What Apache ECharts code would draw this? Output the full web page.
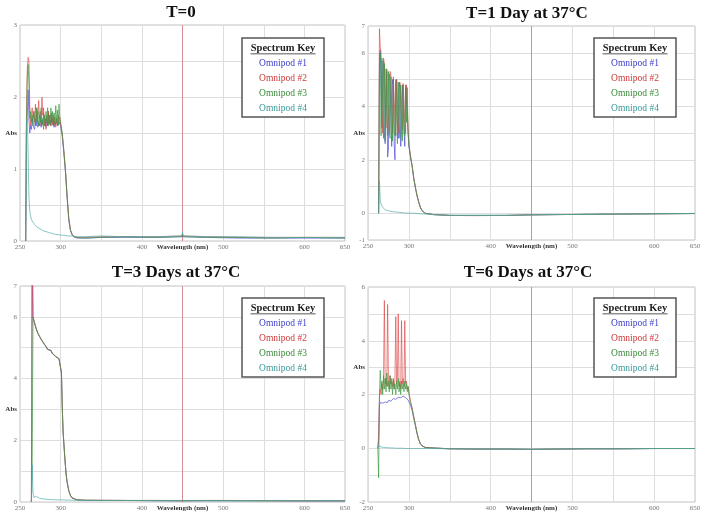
<!DOCTYPE html>
<html><head><meta charset="utf-8">
<script src="https://cdn.jsdelivr.net/npm/echarts@6/dist/echarts.min.js"></script>
<style>
html,body{margin:0;padding:0;background:#fff}
#wrap{position:relative;width:704px;height:519px;overflow:hidden}
.p{position:absolute}
</style>
</head><body><div id="wrap">
<div class="p" id="p0" style="left:0;top:0;width:352px;height:259px"></div>
<div class="p" id="p1" style="left:352px;top:0;width:352px;height:259px"></div>
<div class="p" id="p2" style="left:0;top:259px;width:352px;height:260px"></div>
<div class="p" id="p3" style="left:352px;top:259px;width:352px;height:260px"></div>
</div>
<script>
const seriesNames = ['Omnipod #1', 'Omnipod #2', 'Omnipod #3', 'Omnipod #4'];
const panelTitles = ['T=0', 'T=1 Day at 37°C', 'T=3 Days at 37°C', 'T=6 Days at 37°C'];
const legendTitle = 'Spectrum Key';
const xTickLabels = [250, 300, 400, 500, 600, 650];
const yTickLabels = [[0, 1, 2, 3], [-1, 0, 2, 4, 6, 7], [0, 2, 4, 6, 7], [-2, 0, 2, 4, 6]];
const yRanges = [[0, 3, 0.5], [-1, 7, 1], [0, 7, 1], [-2, 6, 1]];
const absLabelAt = [1.5, 3, 3, 3];
const referenceWavelength = 450;

// ---- T=0 ----
const wl_T0 = [257,258,259,260,261,262,263,264,265,266,267,268,269,270,271,272,273,274,275,276,277,278,279,280,281,282,283,284,285,286,287,288,289,290,291,292,293,294,295,296,297,298,299,300,302,304,306,308,310,312,314,316,320,330,350,380,420,449,450,451,480,520,560,600,650];
const T0_pod1 = [0,1.6,1.75,2.1,1.7,1.5,1.6,1.55,1.7,1.6, 1.62,1.55,1.7,1.6,1.75,1.58,1.65,1.6,1.72,1.58, 1.68,1.62,1.78,1.6,1.66,1.58,1.7,1.6,1.8,1.62, 1.68,1.6,1.72,1.62,1.7,1.58,1.65,1.62,1.7,1.6, 1.66,1.62,1.65,1.6, 1.45,1.22,0.95,0.6,0.3,0.15,0.09,0.06,0.04,0.04,0.05,0.05,0.05,0.06,0.08,0.06,0.05,0.04,0.04,0.04,0.04];
const T0_pod2 = [0,1.9,2.4,2.55,2.5,1.9,1.6,1.75,1.85,1.7, 1.8,1.65,1.9,1.7,1.85,1.75,1.95,1.7,1.8,1.6, 2.0,1.75,1.85,1.6,1.7,1.55,1.75,1.6,1.8,1.65, 1.75,1.6,1.78,1.62,1.75,1.6,1.72,1.58,1.7,1.62, 1.75,1.65,1.72,1.62, 1.48,1.25,0.98,0.62,0.32,0.16,0.1,0.06,0.05,0.05,0.06,0.06,0.06,0.07,0.09,0.07,0.06,0.05,0.05,0.05,0.05];
const T0_pod3 = [0,1.7,2.3,2.45,2.2,1.7,1.8,1.65,1.75,1.6, 1.8,1.7,1.6,1.85,1.65,1.8,1.6,1.75,1.65,1.85, 1.6,1.7,1.55,1.75,1.6,1.8,1.65,1.85,1.6,1.75, 1.62,1.85,1.65,1.8,1.6,1.78,1.62,1.88,1.65,1.82, 1.6,1.9,1.7,1.65, 1.5,1.24,0.97,0.61,0.31,0.15,0.09,0.06,0.05,0.04,0.05,0.06,0.05,0.06,0.1,0.06,0.05,0.05,0.04,0.05,0.04];
const T0_pod4 = [0,1.65,1.7,1.2,0.6,0.42,0.35,0.3,0.28,0.26, 0.24,0.23,0.22,0.2,0.2,0.19,0.18,0.17,0.16,0.16, 0.15,0.15,0.14,0.14,0.13,0.13,0.13,0.12,0.12,0.12, 0.11,0.11,0.11,0.1,0.1,0.1,0.1,0.09,0.09,0.09, 0.09,0.09,0.08,0.08, 0.08,0.08,0.07,0.07,0.07,0.07,0.07,0.07,0.06,0.06,0.07,0.06,0.06,0.07,0.12,0.07,0.06,0.06,0.05,0.05,0.05];

// ---- T=1 Day ----
const wl_T1 = [263,264,265,266,267,268,269,270,271,272,273,274,275,276,277,278,279,280,281,282,283,284,285,286,287,288,289,290,291,292,293,294,295,296,297,298,299,300,302,304,306,308,310,312,314,316,320,330,350,380,420,449,450,451,480,520,560,600,650];
const T1_pod1 = [0,5.9,6.1,5.0,3.2,5.7,5.6,3.0,2.6,4.5, 5.3,2.1,2.4,5.2,5.1,3.5,2.5,5.0,4.8,2.6, 2.0,4.9,5.0,3.4,2.8,4.9,4.7,2.5,3.0,4.8, 4.8,3.2,2.5,4.7,4.75,3.8,3.0,2.5, 2.1,1.75,1.3,0.95,0.65,0.42,0.22,0.1,0.0,-0.05,-0.08,-0.08,-0.08,-0.06,-0.07,-0.06,-0.05,-0.04,-0.03,-0.02,-0.01];
const T1_pod2 = [0,6.9,6.2,6.0,4.0,3.0,5.8,5.6,4.2,3.2, 5.4,5.4,3.6,3.0,5.3,5.2,3.8,3.0,5.1,5.1, 3.5,2.9,5.0,5.0,3.4,3.0,4.9,4.9,3.6,3.1, 4.85,4.85,3.4,3.0,4.8,4.8,3.2,2.6, 2.15,1.78,1.32,0.97,0.66,0.43,0.23,0.1,0.0,-0.05,-0.08,-0.09,-0.08,-0.06,-0.06,-0.06,-0.05,-0.04,-0.03,-0.02,-0.01];
const T1_pod3 = [0,5.2,6.0,2.9,5.8,4.0,2.8,5.6,2.7,5.4, 3.5,2.9,5.3,3.0,2.8,5.1,4.0,2.7,5.0,3.1, 2.9,5.0,3.6,2.6,4.9,3.3,2.8,4.8,4.2,2.7, 4.8,3.0,2.9,4.8,3.4,4.7,3.1,2.55, 2.1,1.76,1.3,0.96,0.65,0.42,0.22,0.1,0.0,-0.05,-0.08,-0.08,-0.08,-0.06,-0.07,-0.06,-0.05,-0.04,-0.03,-0.02,-0.01];
const T1_pod4 = [0,1.2,0.45,0.35,0.28,0.22,0.18,0.15,0.13,0.12, 0.1,0.1,0.09,0.08,0.08,0.07,0.07,0.06,0.06,0.05, 0.05,0.05,0.04,0.04,0.04,0.03,0.03,0.03,0.02,0.02, 0.02,0.02,0.01,0.01,0.01,0.01,0.01,0.0, 0,0,0,-0.01,-0.01,-0.02,-0.02,-0.02,-0.03,-0.05,-0.08,-0.08,-0.08,-0.06,-0.06,-0.06,-0.05,-0.04,-0.03,-0.02,-0.01];

// ---- T=3 Days ----
const wl_T3 = [264,265,266,267,268,270,272,274,276,278,280,282,284,286,288,290,292,294,296,298,300,301,302,303,304,305,306,307,308,310,312,314,316,320,330,350,380,420,449,450,451,480,520,560,600,650];
const T3_pod1 = [0,8.5,5.98,5.88,5.78, 5.6,5.46,5.36,5.27,5.3,5.1,5.03,4.94,4.98,4.9,4.8,4.75,4.71,4.67,4.64,4.58, 4.18,3.08,2.28,1.88,1.48,1.14,0.84,0.64, 0.37,0.21,0.13,0.09,0.07, 0.05,0.05,0.05,0.04,0.04,0.05,0.04,0.04,0.04,0.04,0.03,0.03];
const T3_pod2 = [0,8.5,6.0,5.9,5.8, 5.62,5.48,5.38,5.28,5.32,5.12,5.05,4.95,5.0,4.92,4.82,4.76,4.72,4.68,4.65,4.6, 4.2,3.1,2.3,1.9,1.5,1.15,0.85,0.65, 0.38,0.22,0.14,0.1,0.08, 0.06,0.06,0.05,0.05,0.04,0.06,0.04,0.05,0.05,0.04,0.04,0.04];
const T3_pod3 = [0,1.2,5.99,5.89,5.79, 5.61,5.47,5.37,5.27,5.31,5.11,5.04,4.95,4.99,4.91,4.81,4.75,4.71,4.67,4.64,4.59, 4.19,3.09,2.29,1.89,1.49,1.14,0.84,0.64, 0.37,0.21,0.13,0.1,0.07, 0.06,0.05,0.05,0.05,0.04,0.05,0.04,0.05,0.04,0.04,0.04,0.04];
const T3_pod4 = [0,1.2,0.3,0.15,0.12, 0.18,0.14,0.12,0.11,0.1,0.1,0.09,0.09,0.08,0.08,0.08,0.08,0.07,0.07,0.07,0.07, 0.07,0.07,0.07,0.07,0.07,0.06,0.06,0.06, 0.06,0.06,0.06,0.06,0.05, 0.05,0.05,0.05,0.04,0.04,0.05,0.04,0.04,0.04,0.04,0.04,0.04];

// ---- T=6 Days ----
const wl_T6 = [262,263,264,265,266,267,268,269,270,271,272,273,274,275,276,277,278,279,280,281,282,283,284,285,286,287,288,289,290,291,292,293,294,295,296,297,298,299,300,302,304,306,308,310,312,314,316,320,330,350,380,420,449,450,451,480,520,560,600,650];
const T6_pod1 = [0,0.3,1.6,1.7,1.65,1.72,1.68,1.75,1.7,1.72, 1.68,1.74,1.7,1.78,1.72,1.8,1.75,1.82,1.78,1.85, 1.8,1.86,1.82,1.88,1.84,1.9,1.86,1.92,1.88,1.92, 1.9,1.94,1.9,1.92,1.88,1.9,1.86,1.8,1.75, 1.6,1.4,1.12,0.83,0.54,0.32,0.17,0.09,0.03,0.01,-0.02,-0.03,-0.03,-0.04,-0.06,-0.04,-0.03,-0.02,-0.02,-0.01,-0.01];
const T6_pod2 = [0,0.5,1.9,2.2,2.0,2.4,2.2,2.6,5.5,2.4, 2.6,2.3,5.35,2.5,2.2,2.7,2.4,2.6,2.3,2.5, 2.2,2.6,4.9,2.4,2.6,5.0,2.3,2.5,2.2,4.75, 2.4,2.6,2.3,4.75,2.4,2.5,2.2,2.3,2.1, 1.75,1.5,1.18,0.88,0.57,0.33,0.18,0.09,0.03,0.01,-0.02,-0.03,-0.03,-0.04,-0.06,-0.04,-0.03,-0.02,-0.02,-0.01,-0.01];
const T6_pod3 = [0,-1.1,2.0,2.9,2.2,2.5,2.0,2.7,2.2,2.6, 2.1,2.8,2.3,2.5,2.1,2.7,2.2,2.5,2.0,2.6, 2.2,2.4,2.0,2.5,2.2,2.6,2.1,2.4,2.0,2.5, 2.2,2.4,2.1,2.5,2.2,2.4,2.1,2.3,2.0, 1.7,1.45,1.15,0.86,0.56,0.33,0.17,0.09,0.03,0.01,-0.02,-0.03,-0.03,-0.04,-0.06,-0.04,-0.03,-0.02,-0.02,-0.01,-0.01];
const T6_pod4 = [0,0.1,0.12,0.08,0.05,0.04,0.04,0.03,0.03,0.03, 0.02,0.02,0.02,0.02,0.02,0.01,0.01,0.01,0.01,0.01, 0.01,0.01,0.0,0.0,0.0,0.0,0.0,0.0,0.0,0.0, 0.0,0.0,0.0,-0.01,-0.01,-0.01,-0.01,-0.01,-0.01, -0.01,-0.01,-0.01,-0.01,-0.01,-0.01,-0.01,-0.01,-0.01,-0.01,-0.02,-0.03,-0.03,-0.04,-0.05,-0.04,-0.03,-0.02,-0.02,-0.01,-0.01];

const panels = [
  { wl: wl_T0, vals: [T0_pod1, T0_pod2, T0_pod3, T0_pod4] },
  { wl: wl_T1, vals: [T1_pod1, T1_pod2, T1_pod3, T1_pod4] },
  { wl: wl_T3, vals: [T3_pod1, T3_pod2, T3_pod3, T3_pod4] },
  { wl: wl_T6, vals: [T6_pod1, T6_pod2, T6_pod3, T6_pod4] }
];

const lineColors = ['#4848d8', '#de4a4a', '#3a9a3e', '#50aaaa'];
const keyTextColors = ['#3b3bcc', '#cc3838', '#3a8a3a', '#3a9a9a'];
const serif = 'Liberation Serif';
const gridGray = '#dedede';
const refRed = '#d98c8c';
const xTicks = [250, 300, 350, 400, 450, 500, 550, 600, 650];

// layout, in page pixels; each panel is its own chart placed in one quadrant
const quadrant = [[0, 0], [352, 0], [0, 259], [352, 259]];
const grids = [
  { left: 20, top: 25, width: 325, height: 216 },
  { left: 368, top: 26, width: 327, height: 214 },
  { left: 20, top: 286, width: 325, height: 216 },
  { left: 368, top: 287, width: 327, height: 215 }
];
const titlePos = [[181, 13], [527, 14], [176, 273], [528, 273]];
const keyPos = [[242, 38], [594, 38], [242, 298], [594, 298]];

const near = (a, b) => Math.abs(a - b) < 1e-6;

function panelOption(pi) {
  const ox = quadrant[pi][0], oy = quadrant[pi][1];
  const g = grids[pi];
  const p = panels[pi];
  const series = p.vals.map((vals, si) => ({
    type: 'line', name: seriesNames[si],
    data: p.wl.map((w, k) => [w, vals[k]]),
    showSymbol: false, symbol: 'none', clip: true, silent: true,
    emphasis: { disabled: true },
    lineStyle: { color: lineColors[si], width: 1, opacity: 0.68 },
    itemStyle: { color: lineColors[si] },
    z: 3
  }));
  const kx = keyPos[pi][0] - ox, ky = keyPos[pi][1] - oy;
  const graphic = [
    { type: 'text', x: titlePos[pi][0] - ox, y: titlePos[pi][1] - oy, z: 100, silent: true,
      style: { text: panelTitles[pi], fontFamily: serif, fontWeight: 'bold', fontSize: 17, fill: '#111', textAlign: 'center', textVerticalAlign: 'middle' } },
    { type: 'rect', z: 100, silent: true, shape: { x: kx, y: ky, width: 82, height: 79 }, style: { fill: '#fff', stroke: '#555', lineWidth: 1.5 } },
    { type: 'text', z: 101, silent: true, x: kx + 41, y: ky + 10, style: { text: legendTitle, fontFamily: serif, fontWeight: 'bold', fontSize: 10.5, fill: '#222', textAlign: 'center', textVerticalAlign: 'middle' } },
    { type: 'rect', z: 101, silent: true, shape: { x: kx + 8.5, y: ky + 15.5, width: 65, height: 0.8 }, style: { fill: '#222' } }
  ];
  seriesNames.forEach((n, si) => {
    graphic.push({ type: 'text', z: 101, silent: true, x: kx + 41, y: ky + 25 + si * 15, style: { text: n, fontFamily: serif, fontSize: 9.5, fill: keyTextColors[si], textAlign: 'center', textVerticalAlign: 'middle' } });
  });
  return {
    animation: false,
    backgroundColor: 'transparent',
    tooltip: { show: false },
    grid: { left: g.left - ox, top: g.top - oy, width: g.width, height: g.height, show: true, borderColor: '#c4c4c4', borderWidth: 1, containLabel: false, outerBoundsMode: 'none' },
    xAxis: {
      type: 'value', min: 250, max: 650, interval: 50,
      name: 'Wavelength (nm)', nameLocation: 'middle', nameGap: 3, nameMoveOverlap: false,
      nameTextStyle: { fontFamily: serif, fontWeight: 'bold', fontSize: 7, color: '#333', verticalAlign: 'top' },
      axisLine: { show: false, onZero: false },
      axisTick: { show: false },
      axisLabel: { margin: 3, fontFamily: serif, fontSize: 7, color: '#777', hideOverlap: false,
        formatter: v => xTickLabels.some(t => near(t, v)) ? String(v) : '' },
      splitLine: { show: true, showMinLine: true, showMaxLine: true,
        lineStyle: { color: xTicks.map(t => t === referenceWavelength ? refRed : gridGray), width: 1 } }
    },
    yAxis: {
      type: 'value', min: yRanges[pi][0], max: yRanges[pi][1], interval: yRanges[pi][2],
      axisLine: { show: false, onZero: false },
      axisTick: { show: false },
      axisLabel: { margin: 3, fontFamily: serif, fontSize: 7, color: '#777', hideOverlap: false,
        showMinLabel: true, showMaxLabel: true,
        formatter: v => near(v, absLabelAt[pi]) ? '{b|Abs}' : (yTickLabels[pi].some(t => near(t, v)) ? String(v) : ''),
        rich: { b: { fontFamily: serif, fontSize: 7, fontWeight: 'bold', color: '#333' } } },
      splitLine: { show: true, lineStyle: { color: gridGray, width: 1 } }
    },
    series,
    graphic
  };
}

[0, 1, 2, 3].forEach(pi => {
  const chart = echarts.init(document.getElementById('p' + pi), null, { renderer: 'canvas' });
  chart.setOption(panelOption(pi));
});
</script>
</body></html>
